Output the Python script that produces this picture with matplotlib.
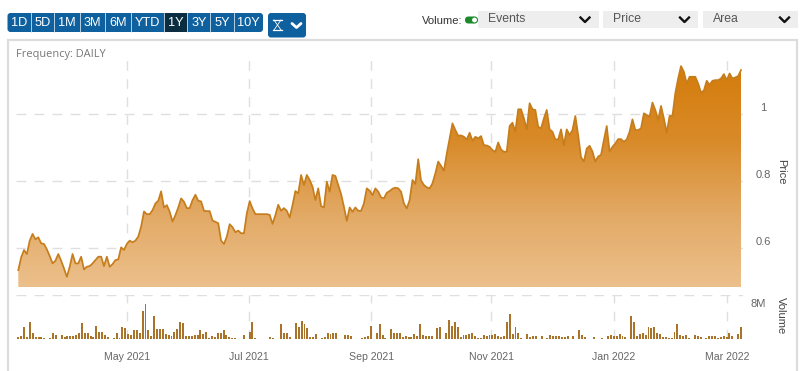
import numpy as np
import matplotlib
matplotlib.use("Agg")
import matplotlib.pyplot as plt
from matplotlib.patches import FancyBboxPatch, Rectangle, Polygon, Circle
from matplotlib.colors import LinearSegmentedColormap

price = [
 .534,.572,.594,.582,.622,.642,.626,.632,.614,.612,.596,.576,.554,.562,.582,.562,.539,.514,.544,.582,
 .554,.554,.574,.536,.544,.546,.554,.564,.574,.574,.546,.574,.544,.552,.564,.566,.602,.594,.612,.622,
 .617,.622,.634,.664,.709,.701,.701,.713,.733,.741,.769,.721,.728,.708,.679,.698,.721,.748,.738,.719,
 .719,.743,.759,.741,.739,.711,.710,.710,.682,.678,.674,.622,.612,.634,.671,.662,.647,.652,.644,.644,
 .703,.740,.718,.701,.701,
 .701,.701,.701,.699,.672,.698,.729,.711,.719,.711,.691,.728,.770,.763,.818,.788,.818,.803,.783,.743,
 .778,.725,.721,.798,.768,.818,.815,.788,.761,.723,.681,.721,.708,.721,.711,.711,.733,.778,.771,.758,
 .778,.768,.751,.748,.765,.770,.777,.780,.778,.768,.733,.718,.743,.803,.791,.865,.801,.788,.781,.778,
 .793,.823,.858,.845,.831,.882,.927,.972,.952,.935,.936,.932,.924,.944,.920,.932,.927,.934,.907,.906,
 .902,.892,.887,.915,.894,.887,
 .888,.964,.974,.947,1.014,1.014,.987,.954,1.032,1.014,1.012,.962,.957,.987,1.012,.954,.947,.924,.924,.954,
 .907,.954,.937,.952,.994,.937,.871,.858,.897,.905,.888,.858,.873,.878,.922,.964,.888,.902,.912,.925,
 .925,.917,.924,.947,.984,.952,.952,.957,1.002,.997,.992,1.034,1.012,.982,1.024,.987,.944,.994,.994,1.062,
 1.106,1.143,1.126,1.091,1.111,1.111,1.111,1.091,1.064,1.070,1.099,1.087,1.099,1.101,1.101,1.106,1.119,1.101,1.121,1.106,
 1.109,1.113,1.131]

volume = [
 .4,.6,2.6,.4,3.8,1.2,.4,.3,.3,.2,0,.2,1.3,.9,0,.8,.3,.6,.5,.6,.9,1.4,3.6,1.3,1.2,.6,.4,3.0,1.6,1.6,
 .8,.3,0,.2,1.4,.2,2.8,2.5,1.1,.9,2.0,1.9,1.4,6.4,8.0,2.0,.6,5.2,2.2,2.2,2.2,1.1,.8,.6,1.6,2.2,3.8,3.6,.6,.6,
 .6,.8,.8,1.9,1.1,1.6,.2,.5,.3,1.3,1.3,2.0,.9,.3,.2,.2,0,0,.8,0,1.6,3.9,.2,0,
 0,0,0,.4,.2,0,0,3.3,1.2,1.2,.4,0,3.6,2.7,4.2,3.5,2.4,.3,.4,1.1,0,.2,.4,1.4,1.1,1.3,1.4,0,0,.8,.8,.5,0,0,0,
 .2,.4,.5,3.0,0,1.3,3.5,.8,.2,0,2.2,1.4,1.2,1.2,
 .4,.5,.4,.3,1.1,.5,3.3,.9,.5,.5,.5,0,2.4,2.7,0,1.4,4.4,3.0,3.8,2.7,.3,.8,.9,1.1,1.3,.6,.2,.2,.8,.6,.8,.9,1.1,
 .5,.4,.6,3.9,5.8,1.1,2.8,1.4,.2,0,1.1,.4,.5,.5,0,.5,0,.2,.9,.6,.5,.5,.4,.4,.6,0,.5,0,1.9,.8,.4,0,0,.3,0,0,.2,0,
 .6,.9,.5,.6,1.1,.6,.4,0,5.2,3.9,.6,1.1,1.4,.9,2.7,2.5,2.8,1.4,1.1,.4,.3,.2,.2,1.6,3.3,.9,.6,.8,.2,0,.9,.6,.4,0,
 .2,.6,.6,.6,.2,.4,.5,.4,1.3,.6,0,1.1,2.7]

range_buttons = ["1D","5D","1M","3M","6M","YTD","1Y","3Y","5Y","10Y"]
month_labels = ["May 2021","Jul 2021","Sep 2021","Nov 2021","Jan 2022","Mar 2022"]
month_pos_frac = [0.1510,0.3197,0.4884,0.6544,0.8239,0.9806]  # share of the trading-day span
price_ticks = [0.6,0.8,1.0]
price_tick_labels = ["0.6","0.8","1"]
dropdowns = ["Events","Price","Area"]

W,H = 800,371
plt.rcParams['font.family'] = ['Liberation Sans','DejaVu Sans']
fig = plt.figure(figsize=(W/100,H/100),dpi=100,facecolor='white')

def px_axes(l,t,r,b,**kw):
    return fig.add_axes([l/W,1-b/H,(r-l)/W,(b-t)/H],**kw)

# UI chrome in pixel coordinates
ui = px_axes(0,0,W,H,zorder=0)
ui.set_xlim(0,W); ui.set_ylim(H,0); ui.axis('off')
ui.add_patch(Rectangle((8,39.5),789,340,fc='white',ec='#dcdcdc',lw=1.6))

BLUE='#0f609f'; DARK='#0b2d42'
edges=[7.5,30.7,54.3,80,105.3,131,163.7,187.3,210.3,233.7,263]
ui.add_patch(FancyBboxPatch((7.5,13),255.5,19,boxstyle="round,pad=0,rounding_size=3",fc=BLUE,ec='none'))
for i,lab in enumerate(range_buttons):
    if lab=="1Y":
        ui.add_patch(Rectangle((edges[i],13),edges[i+1]-edges[i],19,fc=DARK,ec='none'))
    ui.text((edges[i]+edges[i+1])/2,22.7,lab,color='white',ha='center',va='center',fontsize=9.2)
    if i>0:
        ui.plot([edges[i]]*2,[13,32],color='#cfe0ec',lw=0.6)
ui.add_patch(FancyBboxPatch((268,13),38,24.5,boxstyle="round,pad=0,rounding_size=3",fc=BLUE,ec='none'))
ui.plot([273,282],[20,20],color='white',lw=0.9)
ui.plot([273,282],[30,30],color='white',lw=0.9)
ui.plot([274,281],[20,30],color='white',lw=0.6)
ui.plot([281,274],[20,30],color='white',lw=0.6)
ui.plot([292,296.5,301],[23.5,27.5,23.5],color='white',lw=2.0,solid_capstyle='round')

ui.text(422,20.5,"Volume:",color='#333333',fontsize=8.1,va='center',ha='left')
ui.add_patch(FancyBboxPatch((465,16.5),11,7,boxstyle="round,pad=0,rounding_size=3.5",fc='#1c8a2a',ec='none'))
ui.add_patch(Circle((474.5,20),3,fc='white',ec='#1c8a2a',lw=0.8))
for (l,r),lab in zip([(478,598.5),(603,698),(703,798)],dropdowns):
    ui.add_patch(Rectangle((l,11),r-l,17,fc='#eeeeee',ec='none'))
    ui.text(l+10,19.3,lab,color='#555555',fontsize=8.8,va='center',ha='left')
    ui.plot([r-18,r-13.5,r-9],[17.5,22,17.5],color='#111111',lw=1.7)
ui.text(16.5,54,"Frequency: DAILY",color='#777777',fontsize=7.9,va='center',ha='left',family='Open Sans')

n=len(price)
x=np.arange(n)
L,R=16,743
x0,x1=18.3,741.0
per=(x1-x0)/(n-1)
xlim=(-(x0-L)/per,(n-1)+(R-x1)/per)
month_x=[f*(n-1) for f in month_pos_frac]

# price panel
ax=px_axes(L,55,R,287,zorder=2)
ax.patch.set_alpha(0)
ylim=(0.4836,1.176)
ax.set_xlim(*xlim); ax.set_ylim(*ylim)
for s in ax.spines.values(): s.set_visible(False)
GRID='#dfdfdf'
ax.set_yticks(price_ticks); ax.set_yticklabels(price_tick_labels)
ax.set_xticks(month_x); ax.set_xticklabels([])
ax.tick_params(length=0)
ax.tick_params(axis='y',labelleft=False,labelright=False)
ax.grid(True,color=GRID,lw=1.0,ls=(0,(7,6)))
ax.set_axisbelow(True)
cmap=LinearSegmentedColormap.from_list('a',['#ecc08c','#e2a964','#d98a28','#d47c0c'])
grad=np.linspace(1,0,256).reshape(-1,1)
top=max(price)
im=ax.imshow(grad,extent=(0,n-1,ylim[0],top),aspect='auto',cmap=cmap,zorder=2)
poly=Polygon(list(zip(x,price))+[(n-1,ylim[0]),(0,ylim[0])],closed=True,fc='none',ec='none',transform=ax.transData)
ax.add_patch(poly); im.set_clip_path(poly)
ax.set_xlim(*xlim); ax.set_ylim(*ylim)
ax.plot(x,price,color='#c67d1c',lw=1.25,zorder=3,solid_joinstyle='round')
for t,lab in zip(price_ticks,price_tick_labels):
    ax.annotate(lab,(1,t),xycoords=ax.get_yaxis_transform(),xytext=(763-R,6),textcoords='offset pixels',
                ha='center',va='center',color='#666666',fontsize=8)

# volume panel
av=px_axes(L,294.5,R,338.5,zorder=2)
av.patch.set_alpha(0)
av.set_xlim(*xlim); av.set_ylim(0,10.35)
for s in av.spines.values(): s.set_visible(False)
xv=np.arange(len(volume))*(n-1)/(len(volume)-1)
av.set_yticks([10.35]); av.set_yticklabels([])
av.set_xticks(month_x); av.set_xticklabels(month_labels,color='#666666',fontsize=7.6)
av.tick_params(length=0,pad=10)
av.tick_params(axis='y',labelleft=False)
av.grid(True,color=GRID,lw=1.0,ls=(0,(7,6)))
av.set_axisbelow(True)
av.axhline(0,color='#e2e2e2',lw=0.8,zorder=1)
av.bar(xv,volume,width=0.68,color='#a9742a',zorder=3)
av.annotate("8M",(1,8),xycoords=av.get_yaxis_transform(),xytext=(758-R,0),textcoords='offset pixels',
            ha='center',va='center',color='#666666',fontsize=8)

ui.text(781,172,"Price",rotation=-90,ha='center',va='center',color='#444444',fontsize=8)
ui.text(781,316,"Volume",rotation=-90,ha='center',va='center',color='#444444',fontsize=8)

fig.savefig('out.png',dpi=100)
print(len(price),len(volume))
